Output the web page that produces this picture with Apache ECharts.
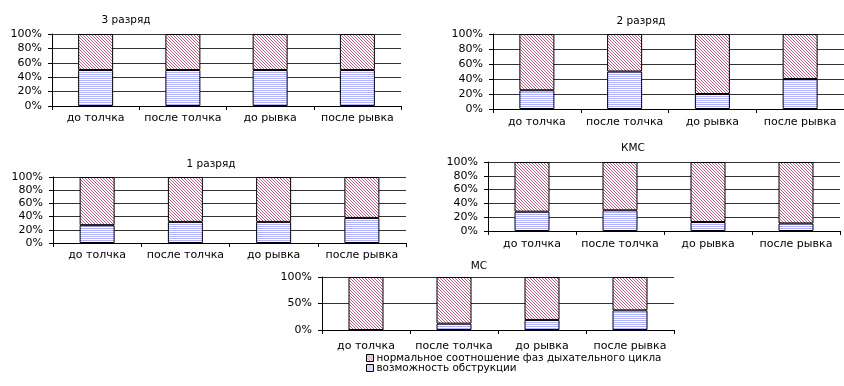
<!DOCTYPE html>
<html>
<head>
<meta charset="utf-8">
<script src="https://cdn.jsdelivr.net/npm/echarts@6/dist/echarts.min.js"></script>
<style>
  html, body { margin: 0; padding: 0; background: #fff; }
  #chart { width: 844px; height: 386px; }
</style>
</head>
<body>
<div id="chart"></div>
<script>
// Breathing-phase ratio by qualification level, before/after clean & jerk and snatch
const categories = ['до толчка', 'после толчка', 'до рывка', 'после рывка'];
const panelTitles = ['3 разряд', '2 разряд', '1 разряд', 'КМС', 'МС'];
const normalName = 'нормальное соотношение фаз дыхательного цикла';
const obstructionName = 'возможность обструкции';

const obstruction3 = [50, 50, 50, 50];
const normal3 = [50, 50, 50, 50];
const obstruction2 = [25, 50, 20, 40];
const normal2 = [75, 50, 80, 60];
const obstruction1 = [27, 32, 32, 38];
const normal1 = [73, 68, 68, 62];
const obstructionKMS = [28, 30, 13, 11];
const normalKMS = [72, 70, 87, 89];
const obstructionMS = [0, 12, 19, 37];
const normalMS = [100, 88, 81, 63];

const yTicks20 = [0, 20, 40, 60, 80, 100];
const yTicks50 = [0, 50, 100];

const panelData = [
  { obstruction: obstruction3, normal: normal3, ticks: yTicks20 },
  { obstruction: obstruction2, normal: normal2, ticks: yTicks20 },
  { obstruction: obstruction1, normal: normal1, ticks: yTicks20 },
  { obstruction: obstructionKMS, normal: normalKMS, ticks: yTicks20 },
  { obstruction: obstructionMS, normal: normalMS, ticks: yTicks50 }
];

// panel placement: plot rectangle, title centre, category label margin
const layout = [
  { left: 52,  top: 34,  width: 349, height: 72, tx: 126, ty: 22,  lm: 7 },
  { left: 493, top: 34,  width: 354, height: 75, tx: 641, ty: 23,  lm: 8 },
  { left: 53,  top: 177, width: 353, height: 66, tx: 211, ty: 166, lm: 7 },
  { left: 488, top: 162, width: 352, height: 69, tx: 633, ty: 150, lm: 8 },
  { left: 322, top: 277, width: 352, height: 53, tx: 479, ty: 268, lm: 11 }
];

const FONT = 'DejaVu Sans';
const FS = 11;

// fill patterns
function hatchPattern() {
  const n = 3;
  const c = document.createElement('canvas');
  c.width = n; c.height = n;
  const g = c.getContext('2d');
  g.fillStyle = '#ffffff'; g.fillRect(0, 0, n, n);
  g.fillStyle = '#bb5f88';
  for (let i = 0; i < n; i++) g.fillRect(i, i, 1, 1);
  return c;
}
function stripePattern() {
  const c = document.createElement('canvas');
  c.width = 4; c.height = 2;
  const g = c.getContext('2d');
  g.fillStyle = '#ffffff'; g.fillRect(0, 0, 4, 2);
  g.fillStyle = '#b2b2f6';
  g.fillRect(0, 0, 4, 1);
  return c;
}
const redFill = { image: hatchPattern(), repeat: 'repeat' };
const blueFill = { image: stripePattern(), repeat: 'repeat' };

const grids = [], xAxes = [], yAxes = [], series = [], titles = [];

panelData.forEach((p, i) => {
  const L = layout[i];
  grids.push({ left: L.left, top: L.top, width: L.width, height: L.height, containLabel: false });
  titles.push({
    text: panelTitles[i], left: L.tx, top: L.ty - 7, textAlign: 'center', padding: 0,
    textStyle: { fontSize: 10.5, fontWeight: 'normal', fontFamily: FONT, color: '#000' }
  });
  xAxes.push({
    type: 'category', gridIndex: i, data: categories,
    axisLine: { show: true, lineStyle: { color: '#000', width: 1 } },
    axisTick: { show: true, length: 4, lineStyle: { color: '#000' } },
    axisLabel: { interval: 0, margin: L.lm, fontSize: FS, fontFamily: FONT, color: '#000' },
    splitLine: { show: false }
  });
  const step = p.ticks[1] - p.ticks[0];
  yAxes.push({
    type: 'value', gridIndex: i, min: p.ticks[0], max: p.ticks[p.ticks.length - 1], interval: step,
    axisLine: { show: true, lineStyle: { color: '#000', width: 1 } },
    axisTick: { show: true, length: 4, lineStyle: { color: '#000' } },
    axisLabel: { formatter: '{value}%', margin: 10, fontSize: FS, fontFamily: FONT, color: '#000' },
    splitLine: { show: true, lineStyle: { color: '#333', width: 1 } }
  });
  series.push({
    name: obstructionName, type: 'bar', stack: 'p' + i, xAxisIndex: i, yAxisIndex: i,
    data: p.obstruction, barWidth: 35,
    itemStyle: { color: blueFill, borderColor: '#000', borderWidth: 1 }
  });
  series.push({
    name: normalName, type: 'bar', stack: 'p' + i, xAxisIndex: i, yAxisIndex: i,
    data: p.normal, barWidth: 35,
    itemStyle: { color: redFill, borderColor: '#000', borderWidth: 1 }
  });
});

const legendBase = {
  orient: 'vertical', padding: 0, itemWidth: 7, itemHeight: 7, itemGap: 0,
  icon: 'rect', selectedMode: false,
  itemStyle: { borderColor: '#000', borderWidth: 1 },
  textStyle: { fontSize: 10.4, fontFamily: FONT, color: '#000', padding: [0, 0, 0, -2] }
};

const chart = echarts.init(document.getElementById('chart'), null, { renderer: 'canvas' });
chart.setOption({
  backgroundColor: '#fff',
  animation: false,
  title: titles,
  legend: [
    Object.assign({}, legendBase, { data: [normalName], left: 366, top: 353 }),
    Object.assign({}, legendBase, { data: [obstructionName], left: 366, top: 363 })
  ],
  grid: grids,
  xAxis: xAxes,
  yAxis: yAxes,
  series: series
});
</script>
</body>
</html>
